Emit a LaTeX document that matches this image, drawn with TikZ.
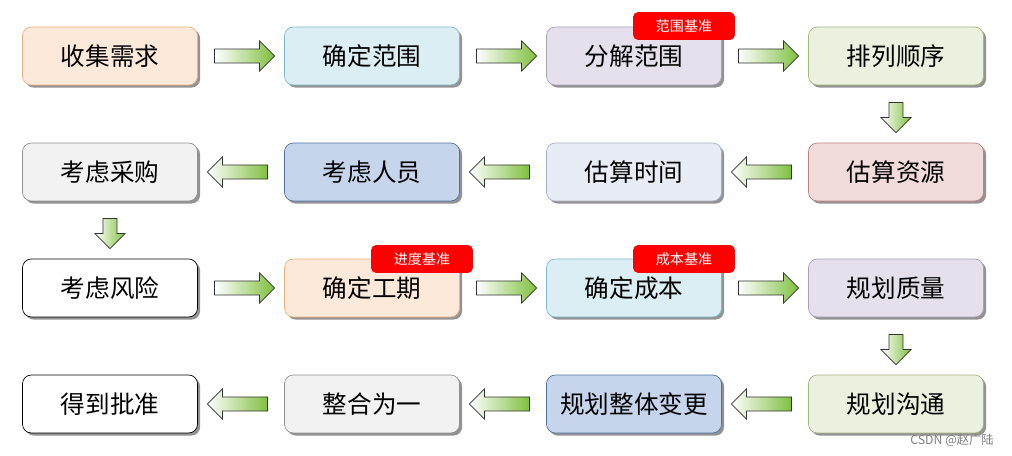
\documentclass[tikz,border=0pt]{standalone}
\usepackage{fontspec}
\newfontfamily\cjk{Noto Sans CJK SC}
\usetikzlibrary{shapes.arrows,shadows,calc}
\definecolor{peach}{HTML}{FDE9D9}\definecolor{peachd}{HTML}{F0B080}
\definecolor{aqua}{HTML}{DBEEF4}\definecolor{aquad}{HTML}{7FB8CC}
\definecolor{lila}{HTML}{E5E0EC}\definecolor{lilad}{HTML}{A8A0B8}
\definecolor{olive}{HTML}{EBF1DE}\definecolor{olived}{HTML}{A0B878}
\definecolor{rose}{HTML}{F2DCDB}\definecolor{rosed}{HTML}{C08080}
\definecolor{mist}{HTML}{E8ECF5}\definecolor{mistd}{HTML}{A8B0C0}
\definecolor{steel}{HTML}{C6D5EC}\definecolor{steeld}{HTML}{5070A0}
\definecolor{ash}{HTML}{F2F2F2}\definecolor{ashd}{HTML}{909090}
\definecolor{leaf}{HTML}{80C040}
\tikzset{
  step/.style={draw=#1, rounded corners=5pt, minimum width=3.5cm, minimum height=1.16cm,
    font=\cjk\fontsize{14}{16}\selectfont, drop shadow={shadow xshift=1.5pt, shadow yshift=-1.5pt, fill=gray!85, opacity=1}},
  flow/.style={single arrow, draw=black!80, thin, minimum width=0.6cm, minimum height=#1,
    single arrow head extend=0.14cm, single arrow head indent=0pt, left color=white, right color=leaf},
  badge/.style={fill=red, text=white, rounded corners=3pt, minimum width=2.04cm, minimum height=0.56cm,
    font=\cjk\fontsize{8}{9}\selectfont}
}
\begin{document}
\begin{tikzpicture}[x=0.02cm, y=-0.02cm]
\useasboundingbox (0,0) rectangle (1012,456);
% row 1
\node[step=peachd, fill=peach] (a1) at (110,56) {收集需求};
\node[step=aquad, fill=aqua] (a2) at (372,56) {确定范围};
\node[step=lilad, fill=lila] (a3) at (634,56) {分解范围};
\node[step=olived, fill=olive] (a4) at (896,56) {排列顺序};
% row 2
\node[step=rosed, fill=rose] (b4) at (896,172) {估算资源};
\node[step=mistd, fill=mist] (b3) at (634,172) {估算时间};
\node[step=steeld, fill=steel] (b2) at (372,172) {考虑人员};
\node[step=ashd, fill=ash] (b1) at (110,172) {考虑采购};
% row 3
\node[step=black, fill=white] (c1) at (110,288) {考虑风险};
\node[step=peachd, fill=peach] (c2) at (372,288) {确定工期};
\node[step=aquad, fill=aqua] (c3) at (634,288) {确定成本};
\node[step=lilad, fill=lila] (c4) at (896,288) {规划质量};
% row 4
\node[step=olived, fill=olive] (d4) at (896,404) {规划沟通};
\node[step=steeld, fill=steel] (d3) at (634,404) {规划整体变更};
\node[step=ashd, fill=ash] (d2) at (372,404) {整合为一};
\node[step=black, fill=white] (d1) at (110,404) {得到批准};
% badges
\node[badge] (s1) at (684,26) {范围基准};
\node[badge] (s2) at (422,259) {进度基准};
\node[badge] (s3) at (684,259) {成本基准};
% arrows
\foreach \p/\q in {a1/a2,a2/a3,a3/a4,c1/c2,c2/c3,c3/c4}
  \node[flow=1.2cm] at ($(\p)!0.5!(\q)$) {};
\foreach \p/\q in {b4/b3,b3/b2,b2/b1,d4/d3,d3/d2,d2/d1}
  \node[flow=1.2cm, rotate=180] at ($(\p)!0.5!(\q)$) {};
\foreach \p/\q in {a4/b4,b1/c1,c4/d4}
  \node[flow=0.6cm, rotate=-90] at ($(\p)!0.5!(\q)$) {};
\node[text=gray, font=\cjk\fontsize{7}{8}\selectfont, anchor=east] (wm) at (1000,440) {CSDN @赵广陆};
\end{tikzpicture}
\end{document}
